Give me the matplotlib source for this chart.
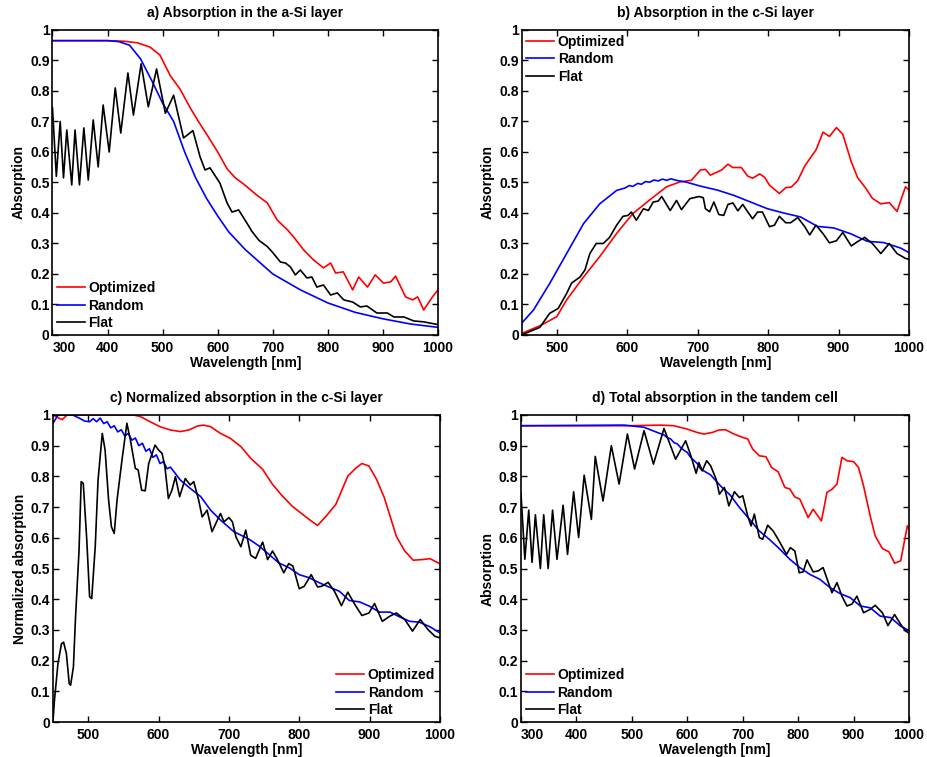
import numpy as np
import matplotlib
matplotlib.use('Agg')
import matplotlib.pyplot as plt

plt.rcParams['font.family'] = ['Liberation Sans', 'DejaVu Sans']
plt.rcParams['font.weight'] = 'bold'
plt.rcParams['axes.labelweight'] = 'bold'
plt.rcParams['axes.titleweight'] = 'bold'

# (wavelength nm, value)
a_opt = [(300,0.965),(350,0.965),(400,0.965),(430,0.963),(454,0.958),(477,0.944),(495,0.918),
         (514,0.85),(532,0.805),(550,0.745),(565,0.70),(581,0.655),(600,0.60),(617,0.545),
         (632,0.515),(647,0.495),(670,0.46),(690,0.433),(708,0.377),(727,0.344),(738,0.321),
         (756,0.279),(774,0.246),(792,0.22),(805,0.236),(814,0.203),(828,0.207),(845,0.148),
         (856,0.19),(872,0.157),(886,0.197),(901,0.17),(914,0.174),(923,0.193),(941,0.125),
         (954,0.115),(963,0.125),(974,0.082),(990,0.125),(1000,0.148)]
a_rand = [(300,0.965),(350,0.965),(400,0.965),(420,0.962),(440,0.95),(460,0.905),(480,0.835),
          (500,0.76),(520,0.70),(540,0.60),(560,0.515),(580,0.447),(600,0.39),(620,0.338),
          (650,0.28),(700,0.20),(750,0.148),(800,0.105),(850,0.074),(900,0.053),(950,0.036),
          (1000,0.025)]
a_flat = [(300,0.745),(307,0.52),(314,0.70),(320,0.515),(326,0.672),(335,0.492),(341,0.672),
          (349,0.492),(357,0.679),(365,0.508),(374,0.705),(383,0.551),(392,0.754),(403,0.60),
          (414,0.81),(424,0.662),(437,0.859),(447,0.721),(461,0.889),(474,0.748),(489,0.872),
          (505,0.727),(520,0.786),(538,0.646),(555,0.670),(568,0.584),(577,0.541),(586,0.548),
          (604,0.498),(617,0.433),(626,0.403),(638,0.41),(653,0.367),(662,0.34),(675,0.31),
          (690,0.29),(700,0.27),(714,0.239),(723,0.236),(732,0.223),(741,0.197),(750,0.213),
          (762,0.187),(771,0.19),(780,0.157),(792,0.164),(805,0.131),(817,0.138),(829,0.115),
          (845,0.108),(859,0.092),(871,0.095),(889,0.072),(908,0.072),(920,0.059),(938,0.059),
          (956,0.046),(974,0.043),(1000,0.034)]

b_opt = [(450,0.005),(476,0.03),(500,0.06),(514,0.115),(538,0.19),(561,0.257),(585,0.333),
         (608,0.398),(632,0.443),(656,0.486),(675,0.502),(691,0.507),(704,0.541),(711,0.543),
         (718,0.524),(734,0.541),(743,0.56),(750,0.549),(762,0.549),(771,0.521),(778,0.514),
         (788,0.528),(795,0.517),(802,0.491),(816,0.464),(825,0.483),(833,0.485),(842,0.506),
         (852,0.554),(868,0.607),(878,0.665),(887,0.651),(897,0.68),(906,0.658),(918,0.568),
         (927,0.516),(939,0.48),(948,0.448),(960,0.43),(972,0.434),(983,0.405),(995,0.486),
         (1000,0.475)]
b_rand = [(450,0.038),(467,0.082),(490,0.169),(514,0.267),(538,0.365),(561,0.43),(585,0.474),
          (597,0.482),(603,0.49),(608,0.487),(615,0.497),(620,0.494),(626,0.503),(632,0.501),
          (638,0.508),(644,0.505),(650,0.511),(656,0.507),(662,0.512),(670,0.507),(684,0.501),
          (704,0.488),(728,0.475),(751,0.458),(775,0.436),(799,0.414),(822,0.40),(846,0.387),
          (870,0.356),(893,0.351),(917,0.332),(941,0.307),(964,0.303),(988,0.285),(1000,0.27)]
b_flat = [(450,0.0),(476,0.025),(490,0.071),(502,0.087),(514,0.136),(521,0.17),(533,0.19),
          (540,0.213),(547,0.267),(556,0.30),(566,0.30),(575,0.32),(585,0.36),(594,0.389),
          (601,0.392),(606,0.403),(613,0.376),(623,0.414),(630,0.408),(637,0.436),(644,0.439),
          (649,0.454),(661,0.408),(670,0.441),(677,0.411),(689,0.447),(702,0.454),(708,0.45),
          (711,0.414),(717,0.404),(723,0.436),(730,0.395),(737,0.392),(743,0.428),(750,0.433),
          (757,0.407),(764,0.428),(768,0.414),(778,0.381),(785,0.403),(792,0.403),(802,0.355),
          (809,0.36),(816,0.389),(825,0.368),(832,0.368),(842,0.385),(852,0.355),(859,0.328),
          (868,0.36),(878,0.332),(887,0.302),(897,0.309),(906,0.336),(918,0.292),(927,0.306),
          (937,0.32),(948,0.30),(960,0.267),(972,0.30),(983,0.267),(995,0.251),(1000,0.248)]

c_opt = [(450,1.0),(458,0.99),(463,0.985),(470,1.0),(500,1.0),(540,1.0),(564,1.0),(574,0.995),
         (588,0.978),(602,0.962),(617,0.951),(631,0.946),(643,0.951),(655,0.964),(664,0.967),
         (674,0.962),(688,0.94),(702,0.924),(717,0.897),(731,0.859),(748,0.823),(762,0.774),
         (776,0.736),(790,0.703),(805,0.676),(814,0.66),(826,0.64),(838,0.67),(852,0.709),
         (869,0.801),(881,0.828),(889,0.842),(899,0.834),(910,0.79),(921,0.73),(938,0.605),
         (950,0.557),(962,0.527),(974,0.529),(986,0.532),(1000,0.515)]
c_rand = [(450,0.973),(457,1.0),(464,1.0),(478,1.0),(488,0.989),(495,0.98),(502,0.978),
          (507,0.988),(512,0.978),(517,0.99),(522,0.972),(527,0.978),(532,0.958),(537,0.965),
          (542,0.945),(547,0.952),(552,0.932),(557,0.94),(562,0.918),(567,0.925),(572,0.9),
          (577,0.908),(582,0.882),(587,0.89),(592,0.862),(597,0.87),(602,0.842),(607,0.848),
          (612,0.825),(617,0.83),(631,0.788),(645,0.761),(660,0.734),(674,0.69),(688,0.658),
          (707,0.62),(729,0.595),(743,0.573),(757,0.546),(771,0.518),(786,0.502),(800,0.48),
          (814,0.47),(829,0.453),(843,0.439),(857,0.426),(871,0.396),(886,0.391),(900,0.377),
          (914,0.358),(929,0.358),(943,0.342),(957,0.328),(971,0.325),(986,0.31),(1000,0.29)]
c_flat = [(450,0.005),(452,0.07),(457,0.19),(462,0.255),(465,0.26),(469,0.223),(473,0.125),
          (475,0.12),(479,0.18),(482,0.342),(487,0.56),(490,0.783),(493,0.777),(498,0.592),
          (502,0.408),(505,0.402),(510,0.571),(514,0.788),(520,0.94),(524,0.886),(529,0.723),
          (533,0.636),(537,0.614),(541,0.723),(548,0.853),(555,0.973),(560,0.918),(567,0.826),
          (571,0.821),(576,0.755),(581,0.753),(586,0.842),(595,0.902),(600,0.886),(605,0.875),
          (609,0.832),(614,0.728),(619,0.755),(624,0.799),(630,0.734),(638,0.793),(645,0.772),
          (650,0.783),(657,0.723),(662,0.668),(669,0.69),(676,0.62),(688,0.679),(693,0.652),
          (700,0.666),(705,0.652),(710,0.603),(717,0.571),(724,0.625),(731,0.543),(738,0.533),
          (745,0.571),(748,0.586),(755,0.529),(762,0.557),(769,0.529),(778,0.486),(785,0.516),
          (791,0.508),(800,0.434),(807,0.442),(817,0.48),(826,0.44),(832,0.442),(841,0.455),
          (850,0.426),(860,0.379),(869,0.423),(879,0.383),(889,0.347),(899,0.355),(907,0.386),
          (918,0.328),(929,0.345),(938,0.355),(950,0.334),(961,0.296),(972,0.334),(983,0.301),
          (993,0.279),(1000,0.274)]

d_opt = [(300,0.965),(400,0.965),(492,0.965),(552,0.967),(576,0.965),(600,0.954),(618,0.943),
         (630,0.938),(645,0.943),(657,0.951),(669,0.952),(684,0.938),(700,0.927),(709,0.922),
         (718,0.889),(730,0.867),(742,0.864),(752,0.829),(764,0.815),(776,0.764),(785,0.759),
         (794,0.733),(803,0.726),(818,0.666),(827,0.693),(842,0.655),(852,0.748),(861,0.758),
         (870,0.775),(879,0.862),(888,0.851),(900,0.848),(909,0.829),(918,0.769),(930,0.671),
         (939,0.606),(952,0.565),(964,0.554),(974,0.517),(985,0.525),(997,0.639),(1000,0.628)]
d_rand = [(300,0.965),(400,0.966),(486,0.967),(522,0.96),(546,0.943),(558,0.935),(564,0.926),
          (570,0.922),(576,0.91),(582,0.906),(588,0.894),(594,0.885),(600,0.878),(606,0.862),
          (612,0.852),(618,0.842),(624,0.824),(642,0.805),(660,0.769),(678,0.738),(694,0.699),
          (712,0.661),(730,0.622),(748,0.595),(767,0.563),(785,0.53),(803,0.503),(821,0.481),
          (839,0.465),(858,0.437),(876,0.418),(894,0.405),(912,0.378),(930,0.372),(948,0.345),
          (967,0.34),(985,0.312),(1000,0.298)]
d_flat = [(300,0.745),(307,0.53),(314,0.69),(320,0.52),(326,0.675),(335,0.50),(341,0.675),
          (349,0.50),(357,0.69),(365,0.53),(376,0.706),(384,0.546),(395,0.75),(404,0.601),
          (414,0.804),(427,0.66),(434,0.865),(448,0.72),(463,0.90),(477,0.775),(492,0.938),
          (505,0.824),(522,0.949),(539,0.84),(558,0.956),(579,0.856),(597,0.916),(606,0.87),
          (616,0.81),(621,0.845),(627,0.818),(635,0.851),(642,0.835),(652,0.791),(658,0.742),
          (667,0.764),(675,0.704),(685,0.75),(694,0.731),(700,0.737),(709,0.671),(715,0.639),
          (721,0.677),(730,0.601),(736,0.595),(745,0.641),(755,0.622),(764,0.595),(779,0.546),
          (786,0.568),(794,0.557),(802,0.486),(809,0.489),(816,0.528),(827,0.489),(836,0.492),
          (845,0.503),(861,0.421),(870,0.454),(879,0.41),(888,0.378),(897,0.384),(906,0.41),
          (918,0.356),(930,0.367),(939,0.38),(952,0.356),(962,0.314),(974,0.35),(985,0.318),
          (994,0.296),(1000,0.29)]

labels = ['Optimized', 'Random', 'Flat']
colors = ['#ff0000', '#0000ff', '#000000']
yticks = [0, 0.1, 0.2, 0.3, 0.4, 0.5, 0.6, 0.7, 0.8, 0.9, 1]

panels = [
    ([0.0566, 0.5575, 0.4159, 0.4029], 'a) Absorption in the a-Si layer', 'Absorption',
     (a_opt, a_rand, a_flat), 300, 'lower left'),
    ([0.5626, 0.5575, 0.418, 0.4029], 'b) Absorption in the c-Si layer', 'Absorption',
     (b_opt, b_rand, b_flat), 450, 'upper left'),
    ([0.0572, 0.0462, 0.4174, 0.4056], 'c) Normalized absorption in the c-Si layer',
     'Normalized absorption', (c_opt, c_rand, c_flat), 450, 'lower right'),
    ([0.562, 0.0462, 0.4186, 0.4056], 'd) Total absorption in the tandem cell', 'Absorption',
     (d_opt, d_rand, d_flat), 300, 'lower left'),
]

fig = plt.figure(figsize=(9.27, 7.57), dpi=100)
for rect, title, ylab, series, xmin, loc in panels:
    ax = fig.add_axes(rect)
    for s, c, lab in zip(series, colors, labels):
        xy = np.array(s)
        ax.plot(xy[:, 0], xy[:, 1], color=c, lw=1.2, label=lab)
    ax.set_xlim(xmin, 1000)
    ax.set_ylim(0, 1)
    ax.set_yticks(yticks)
    ax.set_yticklabels(['%g' % v for v in yticks])
    xt = np.arange(xmin if xmin % 100 == 0 else xmin + 50, 1001, 100)
    ax.set_xticks(xt)
    ax.set_xticklabels([str(v) for v in xt])
    ax.tick_params(direction='in', top=True, right=True, length=4, width=1, labelsize=10)
    ax.tick_params(axis='x', pad=4)
    ax.tick_params(axis='y', pad=2)
    if xmin == 300:
        # first label sits clear of the y "0" label
        ax.get_xticklabels()[0].set_horizontalalignment('left')
    for sp in ax.spines.values():
        sp.set_linewidth(1.2)
    ax.set_title(title, fontsize=10, pad=9)
    ax.set_xlabel('Wavelength [nm]', fontsize=10, labelpad=1)
    ax.set_ylabel(ylab, fontsize=10, labelpad=3)
    ax.legend(loc=loc, frameon=False, fontsize=10, handlelength=2.0, handletextpad=0.25,
              labelspacing=0.25, borderaxespad=0.2, borderpad=0.15)

fig.savefig('out.png', dpi=100)
